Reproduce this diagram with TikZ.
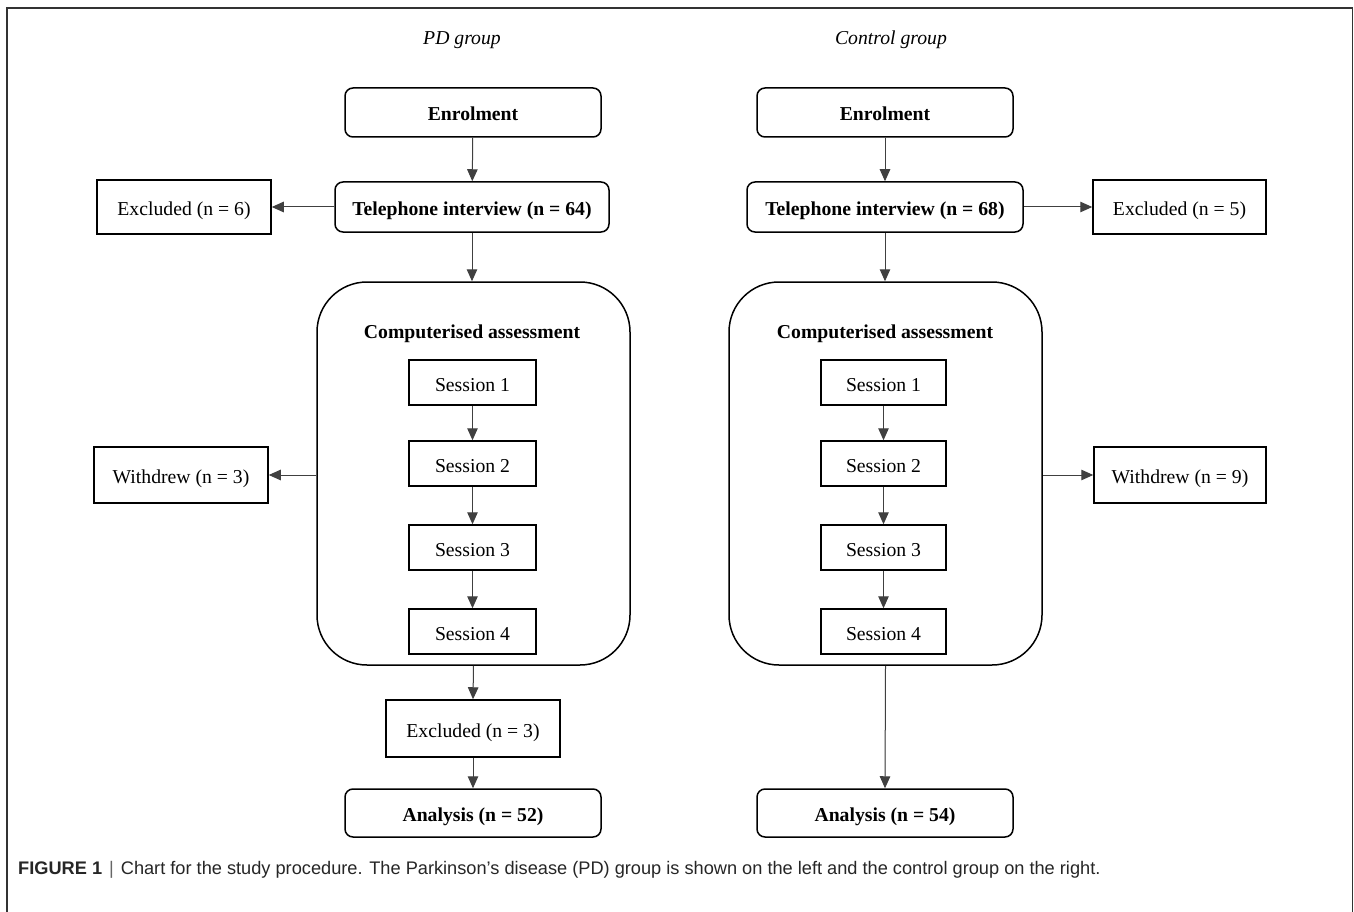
\documentclass[tikz,border=0pt]{standalone}
\usepackage{fontspec}
\setmainfont{Liberation Serif}
\newfontfamily\capfont{Liberation Sans}
\usetikzlibrary{arrows.meta}
\begin{document}
\begin{tikzpicture}[x=1pt,y=-1pt,
  txt/.style={text height=18pt, text depth=1pt},
  rbox/.style={draw=black, line width=1.5pt, rounded corners=8pt, inner sep=0pt, txt,
    font=\fontsize{19.7}{22}\selectfont\bfseries},
  sbox/.style={draw=black, line width=1.5pt, inner sep=0pt, txt,
    font=\fontsize{19.7}{22}\selectfont},
  bigbox/.style={draw=black, line width=1.5pt, rounded corners=50pt, inner sep=0pt,
    minimum width=313pt, minimum height=383pt},
  title/.style={font=\fontsize{19.7}{22}\selectfont\itshape, inner sep=0pt, txt},
  heading/.style={font=\fontsize{19.7}{22}\selectfont\bfseries, inner sep=0pt, txt},
  arr/.style={-{Triangle[length=12pt,width=10.5pt]}, line width=1pt, draw=black!75, fill=black},
  frame/.style={line width=1.5pt, draw=black!80}
]
\useasboundingbox (0,0) rectangle (1354,912);
\fill[white] (0,0) rectangle (1354,912);
\draw[frame] (7,912) -- (7,8) -- (1352.5,8) -- (1352.5,912);

% ---------- PD group ----------
\node[title] (tpd) at (462,36.5) {PD group};
\node[rbox, minimum width=256pt, minimum height=49pt] (enrA) at (473,112.5) {Enrolment};
\node[rbox, minimum width=274pt, minimum height=50pt] (telA) at (472,207) {Telephone interview (n = 64)};
\node[sbox, minimum width=174pt, minimum height=54pt] (excA) at (184,207) {Excluded (n = 6)};
\node[bigbox] (bigA) at (473.5,473.5) {};
\node[heading] (caA) at (472,330) {Computerised assessment};
\node[sbox, minimum width=127pt, minimum height=45pt] (s1A) at (472.5,382.5) {Session 1};
\node[sbox, minimum width=127pt, minimum height=45pt] (s2A) at (472.5,463.5) {Session 2};
\node[sbox, minimum width=127pt, minimum height=45pt] (s3A) at (472.5,547.5) {Session 3};
\node[sbox, minimum width=127pt, minimum height=45pt] (s4A) at (472.5,631.5) {Session 4};
\node[sbox, minimum width=174pt, minimum height=56pt] (wdA) at (181,475) {Withdrew (n = 3)};
\node[sbox, minimum width=174pt, minimum height=57pt] (ex3A) at (473,728.5) {Excluded (n = 3)};
\node[rbox, minimum width=256pt, minimum height=48pt] (anaA) at (473,813) {Analysis (n = 52)};

\draw[arr] (enrA) -- (telA);
\draw[arr] (telA.west) -- (excA.east);
\draw[arr] (telA.south) -- (telA.south |- bigA.north);
\draw[arr] (s1A) -- (s2A);
\draw[arr] (s2A) -- (s3A);
\draw[arr] (s3A) -- (s4A);
\draw[arr] (bigA.west |- wdA.east) -- (wdA.east);
\draw[arr] (bigA.south) -- (ex3A.north);
\draw[arr] (ex3A) -- (anaA);

% ---------- Control group ----------
\node[title] (tco) at (891,36.5) {Control group};
\node[rbox, minimum width=256pt, minimum height=49pt] (enrB) at (885,112.5) {Enrolment};
\node[rbox, minimum width=276pt, minimum height=50pt] (telB) at (885,207) {Telephone interview (n = 68)};
\node[sbox, minimum width=173pt, minimum height=54pt] (excB) at (1179.5,207) {Excluded (n = 5)};
\node[bigbox] (bigB) at (885.5,473.5) {};
\node[heading] (caB) at (885,330) {Computerised assessment};
\node[sbox, minimum width=125pt, minimum height=45pt] (s1B) at (883.5,382.5) {Session 1};
\node[sbox, minimum width=125pt, minimum height=45pt] (s2B) at (883.5,463.5) {Session 2};
\node[sbox, minimum width=125pt, minimum height=45pt] (s3B) at (883.5,547.5) {Session 3};
\node[sbox, minimum width=125pt, minimum height=45pt] (s4B) at (883.5,631.5) {Session 4};
\node[sbox, minimum width=172pt, minimum height=56pt] (wdB) at (1180,475) {Withdrew (n = 9)};
\node[rbox, minimum width=256pt, minimum height=48pt] (anaB) at (885,813) {Analysis (n = 54)};

\draw[arr] (enrB) -- (telB);
\draw[arr] (telB.east) -- (excB.west);
\draw[arr] (telB.south) -- (telB.south |- bigB.north);
\draw[arr] (s1B) -- (s2B);
\draw[arr] (s2B) -- (s3B);
\draw[arr] (s3B) -- (s4B);
\draw[arr] (bigB.east |- wdB.west) -- (wdB.west);
\draw[arr] (bigB.south) -- (anaB.north);

% ---------- Caption ----------
\node[anchor=west, inner sep=0pt, text=black!85, font=\capfont\fontsize{18.2}{21}\selectfont] (cap) at (18,869.5)
  {{\bfseries FIGURE 1}\hspace{7pt}{\color{black!60}|}\hspace{7pt}Chart for the study procedure. The Parkinson’s disease (PD) group is shown on the left and the control group on the right.};
\end{tikzpicture}
\end{document}
